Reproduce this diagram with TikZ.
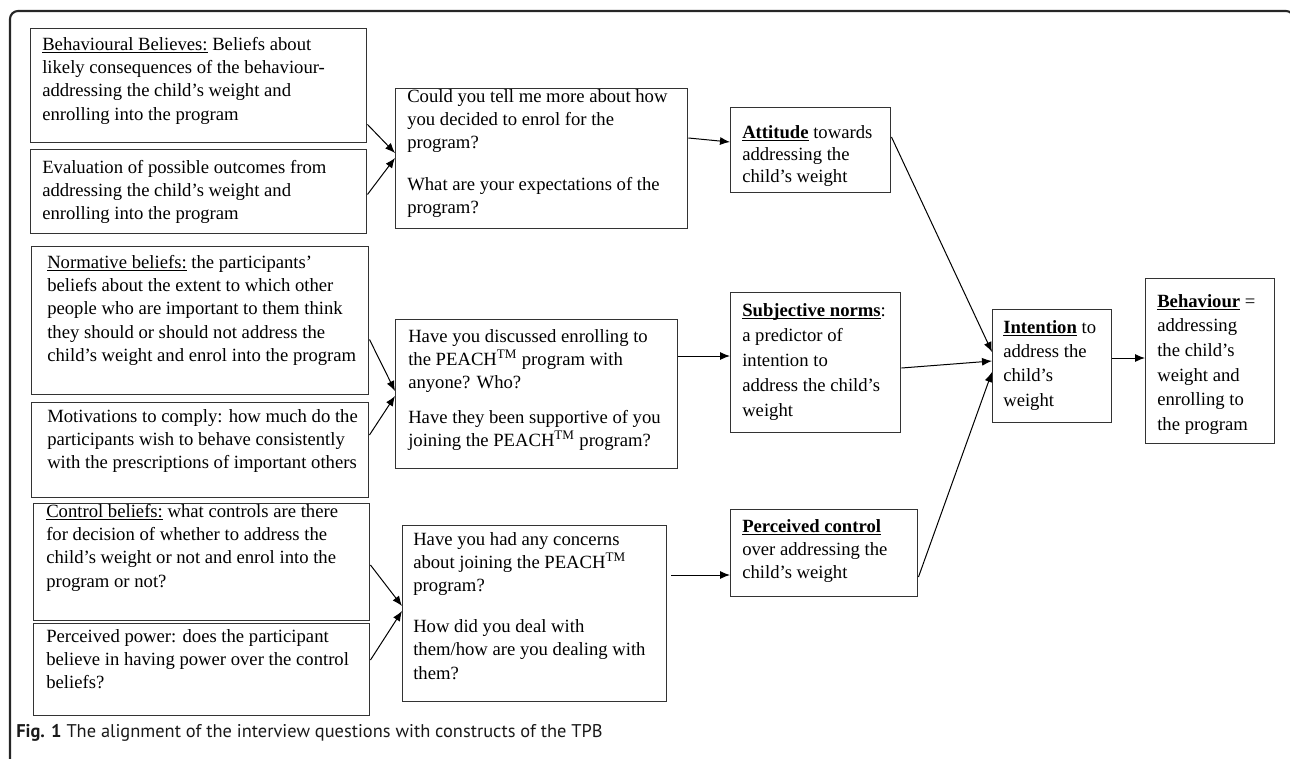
\documentclass[tikz,border=0pt]{standalone}
\usepackage{fontspec}
\setmainfont{Liberation Serif}
\newfontfamily\capfont{PT Sans}
\usetikzlibrary{arrows.meta,calc}
\newcommand\ulb[1]{\underline{\smash{\textbf{#1}}}}
\newcommand\ulr[1]{\underline{\smash{#1}}}
\newcommand\tm{\textsuperscript{TM}}
\tikzset{
  boxst/.style={draw=black!80, line width=1.1pt, inner sep=0pt, anchor=north west},
  txtst/.style={inner sep=0pt, anchor=base west, font=\fontsize{14}{17.6}\selectfont},
  arr/.style={-{Latex[length=7.5pt,width=6pt]}, line width=0.75pt, black},
  frame/.style={line width=1.6pt, black!85, rounded corners=6pt},
}
\newcommand\tb[8]{%
  \node[boxst, minimum width=#4*0.75pt, minimum height=#5*0.75pt] (#1) at (#2,#3) {};
  \node[txtst] (#1t) at ($(#1.north west)+(#6,#7)$) {\parbox[t]{12cm}{\raggedright #8}};
}
\begin{document}
\begin{tikzpicture}[x=0.75pt,y=-0.75pt]
\useasboundingbox (0,0) rectangle (1290,758);
\draw[frame] (10,770) -- (10,11) -- (1294,11) -- (1294,770);

\tb{a1}{30}{28}{336}{114}{12}{22}{\ulr{Behavioural Believes:} Beliefs about\\likely consequences of the behaviour-\\addressing the child’s weight and\\enrolling into the program}
\tb{a2}{30}{149}{336}{84}{12}{24}{Evaluation of possible outcomes from\\addressing the child’s weight and\\enrolling into the program}
\tb{n1}{31}{246}{337}{148}{16}{22}{\ulr{Normative beliefs:} the participants’\\beliefs about the extent to which other\\people who are important to them think\\they should or should not address the\\child’s weight and enrol into the program}
\tb{n2}{31}{402}{337}{95}{16}{20}{Motivations to comply: how much do the\\participants wish to behave consistently\\with the prescriptions of important others}
\tb{c1}{33}{503}{336}{117}{13}{14}{\ulr{Control beliefs:} what controls are there\\for decision of whether to address the\\child’s weight or not and enrol into the\\program or not?}
\tb{c2}{33}{623}{336}{92}{13}{19}{Perceived power: does the participant\\believe in having power over the control\\beliefs?}

\tb{q1}{395}{88}{292}{140}{12}{14}{Could you tell me more about how\\you decided to enrol for the\\program?\\[13.5pt]What are your expectations of the\\program?}
\tb{q2}{395}{319}{282}{149}{13}{23}{Have you discussed enrolling to\\the PEACH\tm{} program with\\anyone? Who?\\[8pt]Have they been supportive of you\\joining the PEACH\tm{} program?}
\tb{q3}{402}{525}{264}{176}{11}{20}{Have you had any concerns\\about joining the PEACH\tm\\program?\\[12.75pt]How did you deal with\\them/how are you dealing with\\them?}

\tb{att}{730}{107}{160}{85}{12}{31}{\fontsize{14}{16.5}\selectfont\ulb{Attitude} towards\\addressing the\\child’s weight}
\tb{sn}{730}{292}{170}{140}{12}{24}{\fontsize{14}{18.75}\selectfont\ulb{Subjective norms}:\\a predictor of\\intention to\\address the child’s\\weight}
\tb{pc}{730}{509}{187}{87}{12}{23}{\ulb{Perceived control}\\over addressing the\\child’s weight}
\tb{int}{992}{309}{119}{113}{11}{24}{\fontsize{14}{18.3}\selectfont\ulb{Intention} to\\address the\\child’s\\weight}
\tb{beh}{1145}{278}{129}{165}{12}{29}{\fontsize{14}{18.5}\selectfont\ulb{Behaviour} =\\addressing\\the child’s\\weight and\\enrolling to\\the program}

\draw[arr] ($(a1.south east)+(0,-19)$) -- ($(q1.north west)+(0,65)$);
\draw[arr] ($(a2.south east)+(0,-40)$) -- ($(q1.north west)+(0,70)$);
\draw[arr] ($(q1.north east)+(0,50)$) -- ($(att.north west)+(0,35)$);
\draw[arr] ($(att.north east)+(0,30)$) -- ($(int.north west)+(0,43)$);
\draw[arr] ($(n1.south east)+(0,-56)$) -- ($(q2.north west)+(0,72)$);
\draw[arr] ($(n2.north east)+(0,33)$) -- ($(q2.north west)+(0,77)$);
\draw[arr] ($(q2.north east)+(0,37)$) -- ($(sn.north west)+(0,64)$);
\draw[arr] ($(sn.north east)+(0,76)$) -- ($(int.north west)+(0,52)$);
\draw[arr] ($(c1.north east)+(0,62)$) -- ($(q3.north west)+(0,81)$);
\draw[arr] ($(c2.north east)+(0,37)$) -- ($(q3.north west)+(0,86)$);
\draw[arr] ($(q3.north east)+(4,50)$) -- ($(pc.north west)+(0,66)$);
\draw[arr] ($(pc.north east)+(0,68)$) -- ($(int.north west)+(0,63)$);
\draw[arr] ($(int.north east)+(0,49)$) -- ($(beh.north west)+(0,80)$);

\node[anchor=base west, inner sep=0pt, text=black!90, font=\capfont\fontsize{13.8}{16}\selectfont] (cap) at (16,737) {\textbf{Fig. 1} The alignment of the interview questions with constructs of the TPB};
\end{tikzpicture}
\end{document}
